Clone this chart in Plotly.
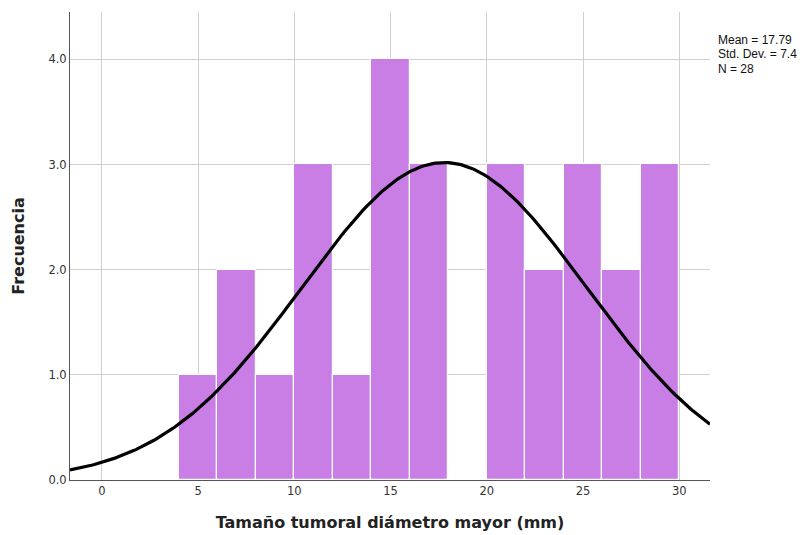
import numpy as np
import plotly.graph_objects as go

bin_starts = [4, 6, 8, 10, 12, 14, 16, 18, 20, 22, 24, 26, 28]
counts = [1, 2, 1, 3, 1, 4, 3, 0, 3, 2, 3, 2, 3]
bin_width = 2
mean_val = 17.79
sd_val = 7.4
n_val = 28
x_ticks = [0, 5, 10, 15, 20, 25, 30]
y_ticks = [0, 1, 2, 3, 4]
stat_lines = [f"Mean = {mean_val}", f"Std. Dev. = {sd_val}", f"N = {n_val}"]

x_range = [-1.66, 31.6]
y_range = [0, 4.45]

centers = [b + bin_width / 2 for b in bin_starts]

xs = np.linspace(x_range[0], x_range[1], 300)
ys = n_val * bin_width / (sd_val * np.sqrt(2 * np.pi)) * np.exp(-0.5 * ((xs - mean_val) / sd_val) ** 2)

fig = go.Figure()
fig.add_trace(go.Bar(
    x=centers, y=counts, width=bin_width,
    marker=dict(color="#C97EE6", line=dict(color="white", width=1.2)),
    hoverinfo="skip", showlegend=False,
))
fig.add_trace(go.Scatter(
    x=xs, y=ys, mode="lines",
    line=dict(color="black", width=3.2),
    hoverinfo="skip", showlegend=False,
))

# page body has an 8px default margin, so the figure is sized/offset accordingly
fig.update_layout(
    width=802, height=527,
    margin=dict(l=62, r=100, t=4, b=55),
    paper_bgcolor="white", plot_bgcolor="white",
    font=dict(family="DejaVu Sans", size=12, color="#333333"),
    bargap=0,
    xaxis=dict(
        range=x_range, tickvals=x_ticks, ticktext=[str(v) for v in x_ticks],
        showgrid=True, gridcolor="#cfcfcf", gridwidth=1,
        showline=True, linecolor="#555555", linewidth=1,
        zeroline=False, ticks="", ticklen=0, automargin=False,
        tickfont=dict(family="DejaVu Sans", size=11.5, color="#333333"),
        title=dict(text="<b>Tamaño tumoral diámetro mayor (mm)</b>",
                   font=dict(family="DejaVu Sans", size=16, color="#222222"), standoff=20),
    ),
    yaxis=dict(
        range=y_range, tickvals=y_ticks, ticktext=[f"{v:.1f}" for v in y_ticks],
        showgrid=True, gridcolor="#cfcfcf", gridwidth=1,
        showline=True, linecolor="#555555", linewidth=1,
        zeroline=False, ticks="", ticklen=0, automargin=False,
        tickfont=dict(family="DejaVu Sans", size=11.5, color="#333333"),
        title=dict(text="<b>Frecuencia</b>",
                   font=dict(family="DejaVu Sans", size=16, color="#222222"), standoff=19),
    ),
    annotations=[dict(
        xref="paper", yref="paper", x=1.011, y=yy, xanchor="left", yanchor="middle",
        text=t, showarrow=False, align="left", height=11, borderpad=0,
        font=dict(family="Liberation Sans", size=12, color="#111111"),
    ) for t, yy in zip(stat_lines, [0.9402, 0.9103, 0.8803])],
)

fig.write_html("out.html")
